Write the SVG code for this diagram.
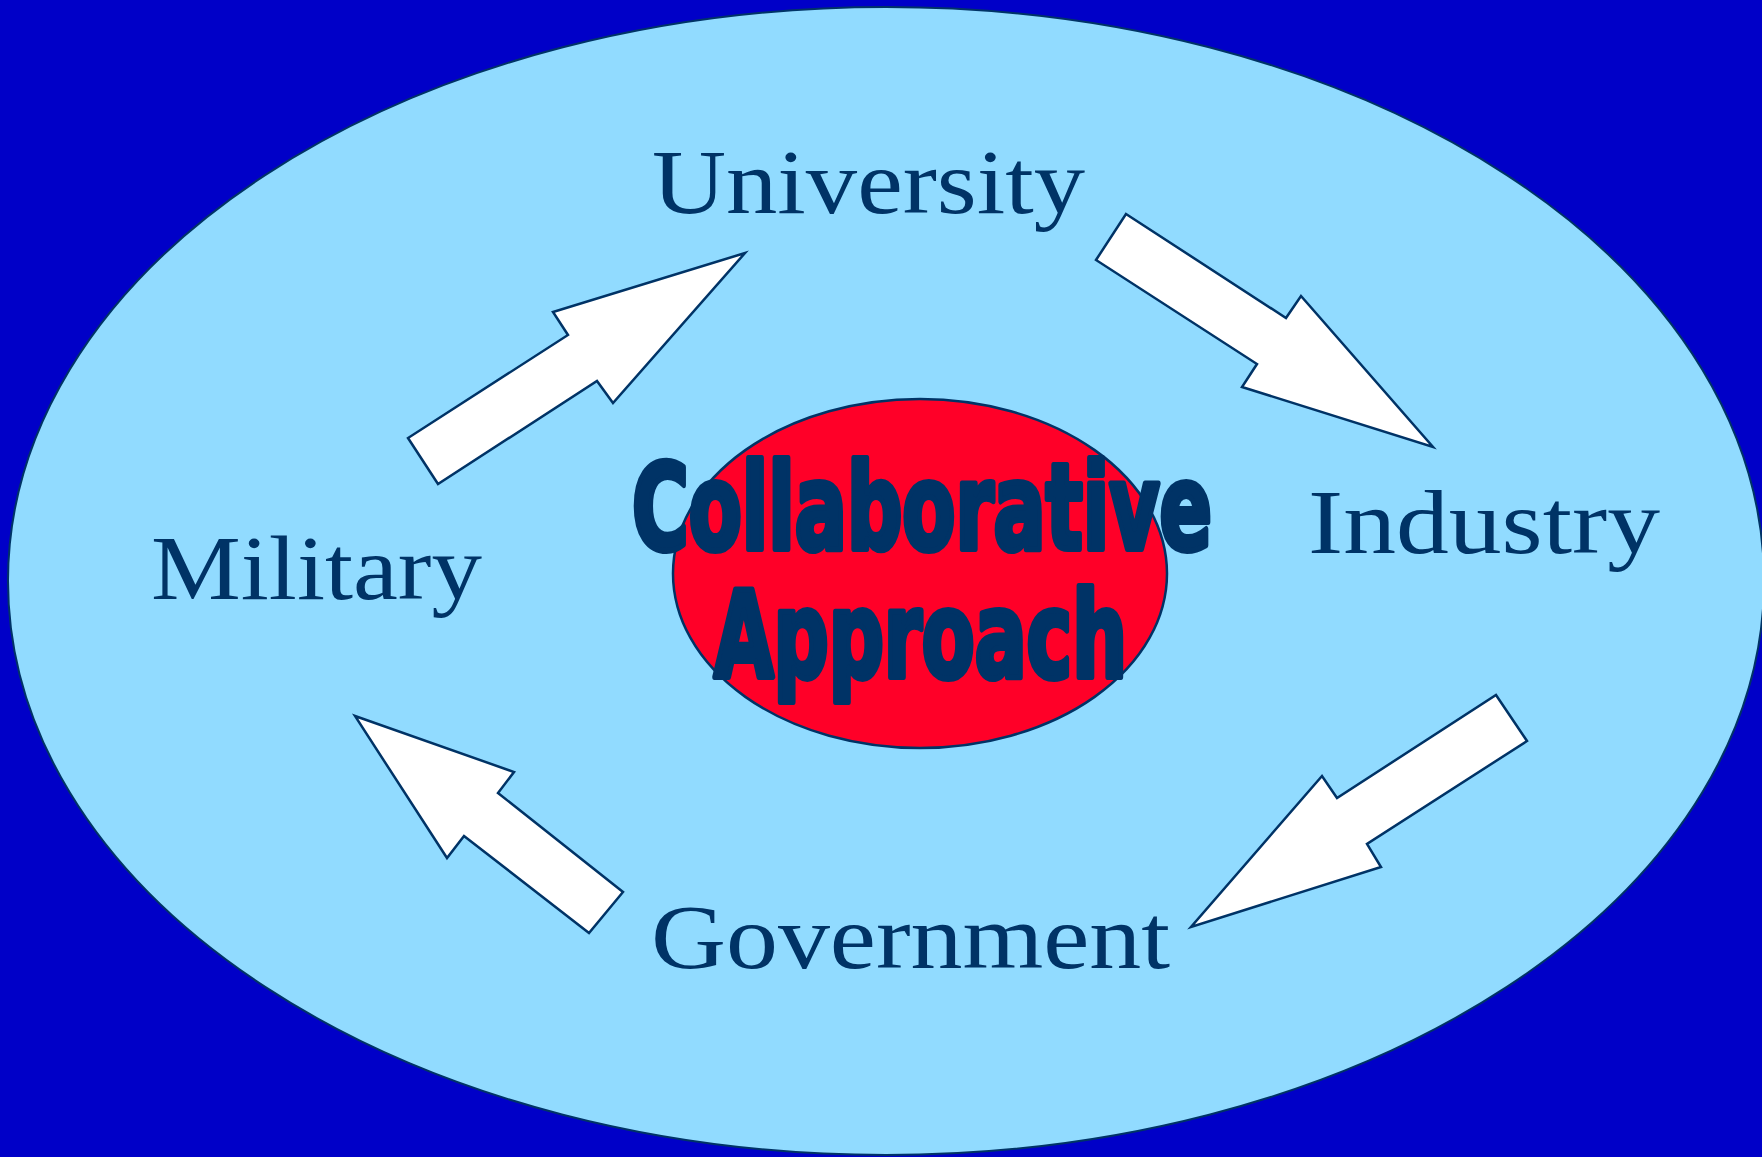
<svg xmlns="http://www.w3.org/2000/svg" width="1762" height="1157" viewBox="0 0 1762 1157">
  <style>
    .lbl { font-family: "Liberation Serif", "DejaVu Serif", serif; font-size: 92px; fill: #003366; }
    .big { font-family: "Liberation Sans Narrow", "DejaVu Sans Condensed", "Liberation Sans", sans-serif; font-weight: bold; font-size: 120px; fill: #003366; stroke: #003366; stroke-width: 6; stroke-linejoin: round; }
    .arrow { fill: #FFFFFF; stroke: #003366; stroke-width: 2.5; stroke-linejoin: miter; }
  </style>
  <rect x="0" y="0" width="1762" height="1157" fill="#0000C8"/>
  <g id="frame">
    <ellipse cx="886" cy="581" rx="878" ry="574" fill="#91DBFF" stroke="#003366" stroke-width="2"/>
  </g>
  <g id="connectors">
    <polygon class="arrow" points="408,438 438,484 597,381 613,403 745,253 553,312 568,335"/>
    <polygon class="arrow" points="1126,214 1286,318 1301,296 1433,447 1242,387 1257,364 1096,260"/>
    <polygon class="arrow" points="1496,695 1527,741 1367,844 1381,867 1191,927 1322,776 1337,798"/>
    <polygon class="arrow" points="355,716 514,772 498,793 623,892 589,933 464,836 447,858"/>
  </g>
  <g id="center">
    <ellipse cx="920" cy="573.5" rx="247" ry="174.5" fill="#FF0028" stroke="#003366" stroke-width="2.5"/>
    <text class="big" x="632" y="549" textLength="580" lengthAdjust="spacingAndGlyphs">Collaborative</text>
    <text class="big" x="714" y="677" textLength="413" lengthAdjust="spacingAndGlyphs">Approach</text>
  </g>
  <g id="university">
    <text class="lbl" x="652" y="213" textLength="433" lengthAdjust="spacingAndGlyphs">University</text>
  </g>
  <g id="industry">
    <text class="lbl" x="1308" y="553" textLength="352" lengthAdjust="spacingAndGlyphs">Industry</text>
  </g>
  <g id="military">
    <text class="lbl" x="151" y="599" textLength="331" lengthAdjust="spacingAndGlyphs">Military</text>
  </g>
  <g id="government">
    <text class="lbl" x="651" y="968" textLength="519" lengthAdjust="spacingAndGlyphs">Government</text>
  </g>
</svg>
